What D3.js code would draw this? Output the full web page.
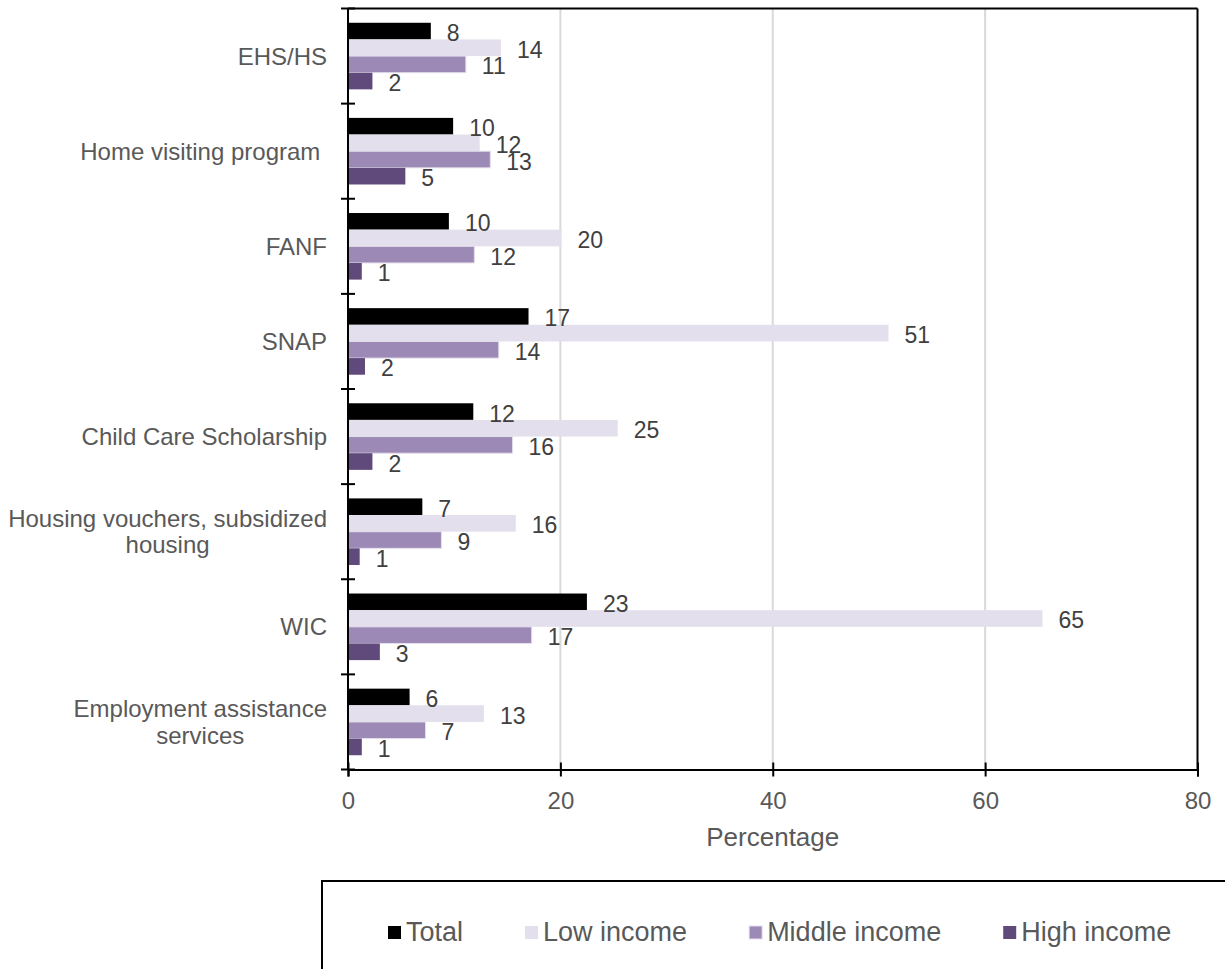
<!DOCTYPE html>
<html>
<head>
<meta charset="utf-8">
<script src="https://cdn.jsdelivr.net/npm/d3@7"></script>
<style>
  html, body { margin: 0; padding: 0; background: #ffffff; }
  svg { display: block; }
  text { font-family: "Liberation Sans", Arial, sans-serif; }
</style>
</head>
<body>
<svg id="chart" width="1225" height="969"></svg>
<script>
// ---- Data ----
const categories = [
  "EHS/HS",
  "Home visiting program ",
  "FANF",
  "SNAP",
  "Child Care Scholarship",
  "Housing vouchers, subsidized housing",
  "WIC",
  "Employment assistance services"
];
const seriesNames = ["Total", "Low income", "Middle income", "High income"];
const totalValues  = [7.8, 9.9, 9.5, 17.0, 11.8, 7.0, 22.5, 5.8];
const lowValues    = [14.4, 12.4, 20.1, 50.9, 25.4, 15.8, 65.4, 12.8];
const middleValues = [11.1, 13.4, 11.9, 14.2, 15.5, 8.8, 17.3, 7.3];
const highValues   = [2.3, 5.4, 1.3, 1.6, 2.3, 1.1, 3.0, 1.3];
const xTicks = [0, 20, 40, 60, 80];
const xAxisTitle = "Percentage";

// ---- Styles ----
const colors = ["#000000", "#e4dfec", "#9d89b6", "#604a7b"];
const seriesValues = [totalValues, lowValues, middleValues, highValues];

const svg = d3.select("#chart");
const plot = { left: 348, right: 1197.5, top: 8.5, bottom: 769.5 };

const x = d3.scaleLinear().domain([0, 80]).range([plot.left, plot.right]);
const y0 = d3.scaleBand().domain(categories).range([plot.top, plot.bottom])
  .paddingInner(0.3).paddingOuter(0.15);
const yb = d3.scaleBand().domain(categories).range([plot.top, plot.bottom]).padding(0);
const y1 = d3.scaleBand().domain(seriesNames).range([0, y0.bandwidth()]);

// Gridlines
svg.append("g").selectAll("line")
  .data(xTicks.filter(t => t > 0 && t < 80))
  .join("line")
  .attr("x1", d => x(d)).attr("x2", d => x(d))
  .attr("y1", plot.top).attr("y2", plot.bottom)
  .attr("stroke", "#d9d9d9").attr("stroke-width", 2);

// Bars
const rows = [];
categories.forEach((c, i) => {
  seriesNames.forEach((s, j) => {
    rows.push({ cat: c, series: s, idx: j, value: seriesValues[j][i] });
  });
});

svg.append("g").selectAll("rect")
  .data(rows)
  .join("rect")
  .attr("x", x(0))
  .attr("y", d => y0(d.cat) + y1(d.series))
  .attr("width", d => x(d.value) - x(0))
  .attr("height", y1.bandwidth())
  .attr("fill", d => colors[d.idx])
  .attr("stroke", d => d.idx === 2 ? "#e4dfec" : "none")
  .attr("stroke-width", 1);

// Data labels
svg.append("g").selectAll("text")
  .data(rows)
  .join("text")
  .attr("x", d => x(d.value) + 16)
  .attr("y", d => y0(d.cat) + y1(d.series) + y1.bandwidth() / 2 + 10)
  .attr("font-size", 23)
  .attr("fill", "#404040")
  .text(d => Math.round(d.value));

// Frame top & right
svg.append("line")
  .attr("x1", plot.left).attr("x2", plot.right)
  .attr("y1", plot.top).attr("y2", plot.top)
  .attr("stroke", "#000").attr("stroke-width", 2);
svg.append("line")
  .attr("x1", plot.right).attr("x2", plot.right)
  .attr("y1", plot.top).attr("y2", plot.bottom)
  .attr("stroke", "#000").attr("stroke-width", 2);

// Y axis line & crossing ticks
svg.append("line")
  .attr("x1", plot.left).attr("x2", plot.left)
  .attr("y1", plot.top).attr("y2", plot.bottom)
  .attr("stroke", "#000").attr("stroke-width", 2);
const yTickPos = categories.map(c => yb(c)).concat([plot.bottom]);
svg.append("g").selectAll("line")
  .data(yTickPos)
  .join("line")
  .attr("x1", plot.left - 7).attr("x2", plot.left + 7)
  .attr("y1", d => d).attr("y2", d => d)
  .attr("stroke", "#000").attr("stroke-width", 2);

// X axis
const xAxis = svg.append("g")
  .attr("transform", `translate(0,${plot.bottom})`)
  .call(d3.axisBottom(x).tickValues(xTicks).tickSize(7).tickFormat(d3.format("d")));
xAxis.select(".domain").attr("stroke", "#000").attr("stroke-width", 2);
xAxis.selectAll(".tick line").attr("y1", -7).attr("y2", 7)
  .attr("stroke", "#000").attr("stroke-width", 2);
xAxis.selectAll(".tick text")
  .attr("y", 39).attr("dy", 0)
  .attr("font-size", 24)
  .attr("font-family", "'Liberation Sans', Arial, sans-serif")
  .attr("fill", "#595959");

svg.append("text")
  .attr("x", x(40)).attr("y", 846)
  .attr("text-anchor", "middle")
  .attr("font-size", 26)
  .attr("fill", "#595959")
  .text(xAxisTitle);

// Category labels (wrapped, centered lines, right-aligned block)
const labelRight = 327;
const maxLabelWidth = 335;
const catG = svg.append("g");
categories.forEach(c => {
  const words = c.trim().split(/\s+/);
  const measure = catG.append("text").attr("font-size", 24).style("white-space", "pre");
  const lines = [];
  let cur = "";
  words.forEach(w => {
    const test = cur ? cur + " " + w : w;
    measure.text(test);
    if (measure.node().getComputedTextLength() > maxLabelWidth && cur) {
      lines.push(cur);
      cur = w;
    } else {
      cur = test;
    }
  });
  lines.push(cur);
  if (lines.length === 1) lines[0] = c; // keep original (incl. trailing space)
  const widths = lines.map(l => { measure.text(l); return measure.node().getComputedTextLength(); });
  measure.remove();
  const maxW = d3.max(widths);
  const cx = labelRight - maxW / 2;
  const cy = yb(c) + yb.bandwidth() / 2;
  const lh = 26.5;
  lines.forEach((l, k) => {
    catG.append("text")
      .attr("x", lines.length === 1 ? labelRight : cx)
      .attr("y", cy + (k - (lines.length - 1) / 2) * lh + 8.5)
      .attr("text-anchor", lines.length === 1 ? "end" : "middle")
      .attr("font-size", 24)
      .attr("fill", "#595959")
      .attr("xml:space", "preserve")
      .style("white-space", "pre")
      .text(l);
  });
});

// Legend
svg.append("rect")
  .attr("x", 322).attr("y", 881)
  .attr("width", 960).attr("height", 120)
  .attr("fill", "none").attr("stroke", "#000").attr("stroke-width", 2);

let lx = 388;
const legendG = svg.append("g");
seriesNames.forEach((s, j) => {
  legendG.append("rect")
    .attr("x", lx).attr("y", 926)
    .attr("width", 13).attr("height", 13)
    .attr("fill", colors[j])
    .attr("stroke", j === 2 ? "#e4dfec" : "none");
  const t = legendG.append("text")
    .attr("x", lx + 18).attr("y", 941)
    .attr("font-size", 27)
    .attr("fill", "#595959")
    .text(s);
  lx += 18 + t.node().getComputedTextLength() + 62;
});
</script>
</body>
</html>
